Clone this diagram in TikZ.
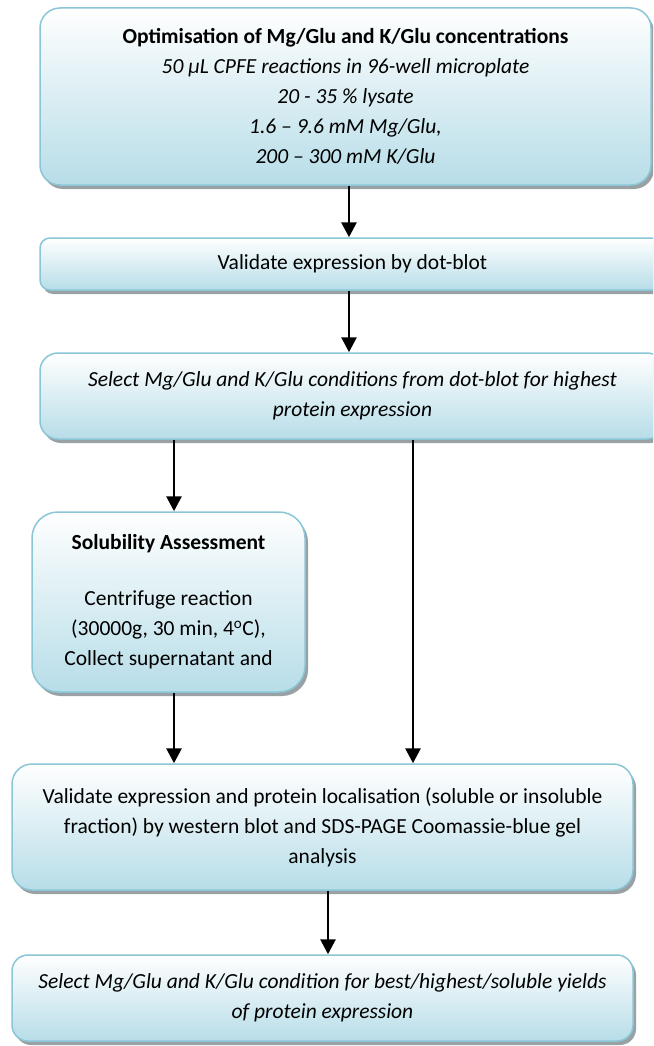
\documentclass[tikz,border=0pt]{standalone}
\usepackage{fontspec}
\setmainfont{Carlito}
\usetikzlibrary{shadows,arrows.meta}
\definecolor{boxedge}{RGB}{138,198,214}
\definecolor{boxfill}{RGB}{183,221,232}
\definecolor{shadowgray}{RGB}{120,130,135}
\tikzset{
  flowbox/.style={draw=boxedge, line width=1.5pt, rounded corners=#1,
    top color=white, bottom color=boxfill,
    drop shadow={shadow xshift=3pt, shadow yshift=-4pt, fill=shadowgray, opacity=0.75},
    align=center, inner sep=0pt, font=\fontsize{21.5}{30}\selectfont},
  flowbox/.default=20pt,
  arr/.style={line width=2.8pt, -{Triangle[length=15pt,width=15pt]}},
}
\begin{document}
\begin{tikzpicture}[x=1pt,y=-1pt]
\clip (0,0) rectangle (653,1046);
\fill[white] (0,0) rectangle (653,1046);

% step boxes
\node[flowbox=20pt, minimum width=611pt, minimum height=177pt] (opt) at (345.5,96.5)
  {\textbf{Optimisation of Mg/Glu and K/Glu concentrations}\\
   \textit{50 µL CPFE reactions in 96-well microplate}\\
   \textit{20 - 35 \% lysate}\\
   \textit{1.6 – 9.6 mM Mg/Glu,}\\
   \textit{200 – 300 mM K/Glu}};

\node[flowbox=10pt, minimum width=625pt, minimum height=52pt] (dot) at (352.5,264)
  {Validate expression by dot-blot};

\node[flowbox=18pt, minimum width=625pt, minimum height=86pt] (sel) at (352.5,396)
  {\textit{Select Mg/Glu and K/Glu conditions from dot-blot for highest}\\
   \textit{protein expression}};

\node[flowbox=26pt, minimum width=273pt, minimum height=180pt] (sol) at (168.5,602)
  {\textbf{Solubility Assessment}\\[26pt]
   Centrifuge reaction\\
   (30000g, 30 min, 4\textsuperscript{o}C),\\
   Collect supernatant and};

\node[flowbox=20pt, minimum width=621pt, minimum height=126pt] (wb) at (322.5,827)
  {Validate expression and protein localisation (soluble or insoluble\\
   fraction) by western blot and SDS-PAGE Coomassie-blue gel\\
   analysis};

\node[flowbox=16pt, minimum width=621pt, minimum height=86pt] (best) at (322.5,998)
  {\textit{Select Mg/Glu and K/Glu condition for best/highest/soluble yields}\\
   \textit{of protein expression}};

% connector columns
\coordinate (c1) at (349,0);
\coordinate (cl) at (174,0);
\coordinate (cr) at (413,0);
\coordinate (c5) at (328,0);

\draw[arr] (opt.south -| c1) -- (dot.north -| c1);
\draw[arr] (dot.south -| c1) -- (sel.north -| c1);
\draw[arr] (sel.south -| cl) -- (sol.north -| cl);
\draw[arr] (sel.south -| cr) -- (wb.north -| cr);
\draw[arr] (sol.south -| cl) -- (wb.north -| cl);
\draw[arr] (wb.south -| c5) -- (best.north -| c5);
\end{tikzpicture}
\end{document}
